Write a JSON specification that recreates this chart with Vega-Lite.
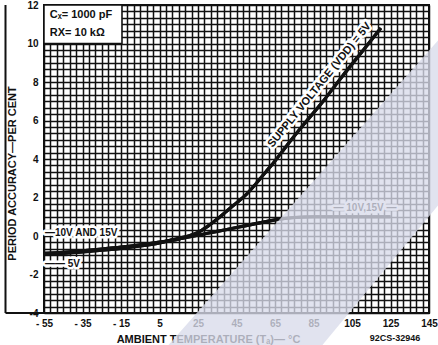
{
  "$schema": "https://vega.github.io/schema/vega-lite/v6.json",
  "width": 385,
  "height": 308,
  "autosize": "none",
  "padding": {"left": 44, "top": 5, "right": 9, "bottom": 32},
  "background": "white",
  "config": {"view": {"stroke": "#111", "strokeWidth": 2}, "font": "Liberation Sans"},
  "datasets": {
    "curves": [
      {"T": -55, "acc": -0.95, "supply": "5V"},
      {"T": -45, "acc": -0.9, "supply": "5V"},
      {"T": -35, "acc": -0.82, "supply": "5V"},
      {"T": -25, "acc": -0.74, "supply": "5V"},
      {"T": -15, "acc": -0.64, "supply": "5V"},
      {"T": -5, "acc": -0.52, "supply": "5V"},
      {"T": 5, "acc": -0.36, "supply": "5V"},
      {"T": 15, "acc": -0.12, "supply": "5V"},
      {"T": 20, "acc": 0.0, "supply": "5V"},
      {"T": 25, "acc": 0.18, "supply": "5V"},
      {"T": 30, "acc": 0.5, "supply": "5V"},
      {"T": 35, "acc": 0.88, "supply": "5V"},
      {"T": 40, "acc": 1.3, "supply": "5V"},
      {"T": 45, "acc": 1.72, "supply": "5V"},
      {"T": 50, "acc": 2.15, "supply": "5V"},
      {"T": 55, "acc": 2.7, "supply": "5V"},
      {"T": 60, "acc": 3.3, "supply": "5V"},
      {"T": 65, "acc": 3.9, "supply": "5V"},
      {"T": 70, "acc": 4.55, "supply": "5V"},
      {"T": 80, "acc": 5.8, "supply": "5V"},
      {"T": 90, "acc": 7.0, "supply": "5V"},
      {"T": 100, "acc": 8.3, "supply": "5V"},
      {"T": 110, "acc": 9.55, "supply": "5V"},
      {"T": 120, "acc": 10.8, "supply": "5V"},
      {"T": -55, "acc": -0.9, "supply": "10V, 15V"},
      {"T": -45, "acc": -0.85, "supply": "10V, 15V"},
      {"T": -35, "acc": -0.77, "supply": "10V, 15V"},
      {"T": -25, "acc": -0.68, "supply": "10V, 15V"},
      {"T": -15, "acc": -0.58, "supply": "10V, 15V"},
      {"T": -5, "acc": -0.46, "supply": "10V, 15V"},
      {"T": 5, "acc": -0.32, "supply": "10V, 15V"},
      {"T": 15, "acc": -0.16, "supply": "10V, 15V"},
      {"T": 25, "acc": 0.04, "supply": "10V, 15V"},
      {"T": 35, "acc": 0.24, "supply": "10V, 15V"},
      {"T": 45, "acc": 0.44, "supply": "10V, 15V"},
      {"T": 55, "acc": 0.64, "supply": "10V, 15V"},
      {"T": 65, "acc": 0.84, "supply": "10V, 15V"},
      {"T": 75, "acc": 0.96, "supply": "10V, 15V"},
      {"T": 85, "acc": 1.0, "supply": "10V, 15V"},
      {"T": 105, "acc": 1.0, "supply": "10V, 15V"},
      {"T": 125, "acc": 1.0, "supply": "10V, 15V"}
    ],
    "shade": [
      {"T": 9.42, "top": -5.69, "bottom": -5.69},
      {"T": 89.42, "top": 3.35, "bottom": -5.69},
      {"T": 149.68, "top": 10.16, "bottom": 1.58}
    ],
    "one": [{}]
  },
  "layer": [
    {
      "data": {"name": "curves"},
      "mark": {"type": "line", "interpolate": "monotone", "strokeWidth": 3.2, "color": "#111"},
      "encoding": {
        "x": {
          "field": "T", "type": "quantitative",
          "scale": {"domain": [-55, 145], "nice": false, "zero": false},
          "axis": {
            "values": [-55, -51.6667, -48.3333, -45, -41.6667, -38.3333, -35, -31.6667, -28.3333, -25, -21.6667, -18.3333, -15, -11.6667, -8.3333, -5, -1.6667, 1.6667, 5, 8.3333, 11.6667, 15, 18.3333, 21.6667, 25, 28.3333, 31.6667, 35, 38.3333, 41.6667, 45, 48.3333, 51.6667, 55, 58.3333, 61.6667, 65, 68.3333, 71.6667, 75, 78.3333, 81.6667, 85, 88.3333, 91.6667, 95, 98.3333, 101.6667, 105, 108.3333, 111.6667, 115, 118.3333, 121.6667, 125, 128.3333, 131.6667, 135, 138.3333, 141.6667, 145],
            "tickCount": 200,
            "labelExpr": "(datum.value + 55) % 20 == 0 ? (datum.value < 0 ? '- ' + abs(datum.value) : '' + datum.value) : ''",
            "grid": true, "gridColor": "#111", "gridWidth": 1.5, "gridOpacity": 1,
            "ticks": false, "domain": false,
            "labelFont": "Liberation Sans", "labelFontWeight": "bold", "labelFontSize": 10, "labelColor": "#111",
            "labelPadding": 5, "labelOverlap": false, "labelFlush": false, "labelBound": false,
            "title": "AMBIENT TEMPERATURE (Tₐ)— °C",
            "titleFont": "Liberation Sans", "titleFontSize": 11, "titleFontWeight": "bold", "titleColor": "#111",
            "titleX": 164, "titleY": 20, "titleBaseline": "top", "titleAlign": "center"
          }
        },
        "y": {
          "field": "acc", "type": "quantitative",
          "scale": {"domain": [-4, 12], "nice": false, "zero": false},
          "axis": {
            "values": [-4, -3.6667, -3.3333, -3, -2.6667, -2.3333, -2, -1.6667, -1.3333, -1, -0.6667, -0.3333, 0, 0.3333, 0.6667, 1, 1.3333, 1.6667, 2, 2.3333, 2.6667, 3, 3.3333, 3.6667, 4, 4.3333, 4.6667, 5, 5.3333, 5.6667, 6, 6.3333, 6.6667, 7, 7.3333, 7.6667, 8, 8.3333, 8.6667, 9, 9.3333, 9.6667, 10, 10.3333, 10.6667, 11, 11.3333, 11.6667, 12],
            "tickCount": 200,
            "labelExpr": "datum.value % 2 == 0 ? (datum.value < 0 ? '-' + abs(datum.value) : '' + datum.value) : ''",
            "grid": true, "gridColor": "#111", "gridWidth": 1.5, "gridOpacity": 1,
            "ticks": false, "domain": false,
            "labelFont": "Liberation Sans", "labelFontWeight": "bold", "labelFontSize": 10, "labelColor": "#111",
            "labelPadding": 6, "labelOverlap": false, "labelFlush": false, "labelBound": false,
            "title": "PERIOD ACCURACY—PER CENT",
            "titleFont": "Liberation Sans", "titleFontSize": 11, "titleFontWeight": "bold", "titleColor": "#111",
            "titleX": -32, "titleY": 168, "titleBaseline": "middle", "titleAlign": "center", "titleAngle": -90
          }
        },
        "detail": {"field": "supply"}
      }
    },
    {
      "data": {"name": "one"},
      "mark": {"type": "rect", "fill": "white", "stroke": "#111", "strokeWidth": 1.5},
      "encoding": {
        "x": {"datum": -55, "type": "quantitative", "scale": {"domain": [-55, 145], "nice": false, "zero": false}},
        "x2": {"datum": -14.5},
        "y": {"datum": 12, "type": "quantitative", "scale": {"domain": [-4, 12], "nice": false, "zero": false}},
        "y2": {"datum": 10}
      }
    },
    {
      "data": {"name": "one"},
      "mark": {"type": "text", "align": "left", "baseline": "middle", "font": "Liberation Sans", "fontWeight": "bold", "fontSize": 11, "color": "#111", "text": "Cₓ= 1000 pF"},
      "encoding": {
        "x": {"datum": -52, "type": "quantitative", "scale": {"domain": [-55, 145], "nice": false, "zero": false}},
        "y": {"datum": 11.5, "type": "quantitative", "scale": {"domain": [-4, 12], "nice": false, "zero": false}}
      }
    },
    {
      "data": {"name": "one"},
      "mark": {"type": "text", "align": "left", "baseline": "middle", "font": "Liberation Sans", "fontWeight": "bold", "fontSize": 11, "color": "#111", "text": "RX= 10 kΩ"},
      "encoding": {
        "x": {"datum": -52, "type": "quantitative", "scale": {"domain": [-55, 145], "nice": false, "zero": false}},
        "y": {"datum": 10.52, "type": "quantitative", "scale": {"domain": [-4, 12], "nice": false, "zero": false}}
      }
    },
    {
      "data": {"name": "one"},
      "mark": {"type": "text", "align": "left", "baseline": "middle", "font": "Liberation Sans", "fontWeight": "bold", "fontSize": 10, "fill": "white", "stroke": "white", "strokeWidth": 5, "strokeJoin": "round", "text": "—10V AND 15V"},
      "encoding": {
        "x": {"datum": -54.5, "type": "quantitative", "scale": {"domain": [-55, 145], "nice": false, "zero": false}},
        "y": {"datum": 0.18, "type": "quantitative", "scale": {"domain": [-4, 12], "nice": false, "zero": false}}
      }
    },
    {
      "data": {"name": "one"},
      "mark": {"type": "text", "align": "left", "baseline": "middle", "font": "Liberation Sans", "fontWeight": "bold", "fontSize": 10, "fill": "white", "stroke": "white", "strokeWidth": 5, "strokeJoin": "round", "text": "—— 5V"},
      "encoding": {
        "x": {"datum": -54.5, "type": "quantitative", "scale": {"domain": [-55, 145], "nice": false, "zero": false}},
        "y": {"datum": -1.45, "type": "quantitative", "scale": {"domain": [-4, 12], "nice": false, "zero": false}}
      }
    },
    {
      "data": {"name": "one"},
      "mark": {"type": "text", "align": "center", "baseline": "middle", "angle": -51, "font": "Liberation Sans", "fontWeight": "bold", "fontSize": 11, "fill": "white", "stroke": "white", "strokeWidth": 5, "strokeJoin": "round", "text": "SUPPLY VOLTAGE (VDD) = 5V"},
      "encoding": {
        "x": {"datum": 88.2, "type": "quantitative", "scale": {"domain": [-55, 145], "nice": false, "zero": false}},
        "y": {"datum": 7.84, "type": "quantitative", "scale": {"domain": [-4, 12], "nice": false, "zero": false}}
      }
    },
    {
      "data": {"name": "one"},
      "mark": {"type": "text", "align": "center", "baseline": "middle", "font": "Liberation Sans", "fontWeight": "bold", "fontSize": 10, "fill": "white", "stroke": "white", "strokeWidth": 5, "strokeJoin": "round", "text": "— 10V,15V —"},
      "encoding": {
        "x": {"datum": 111.75, "type": "quantitative", "scale": {"domain": [-55, 145], "nice": false, "zero": false}},
        "y": {"datum": 1.43, "type": "quantitative", "scale": {"domain": [-4, 12], "nice": false, "zero": false}}
      }
    },
    {
      "data": {"name": "curves"},
      "mark": {"type": "line", "interpolate": "monotone", "strokeWidth": 3.2, "color": "#111"},
      "encoding": {
        "x": {"field": "T", "type": "quantitative", "scale": {"domain": [-55, 145], "nice": false, "zero": false}},
        "y": {"field": "acc", "type": "quantitative", "scale": {"domain": [-4, 12], "nice": false, "zero": false}},
        "detail": {"field": "supply"}
      }
    },
    {
      "data": {"name": "one"},
      "mark": {"type": "text", "align": "left", "baseline": "middle", "font": "Liberation Sans", "fontWeight": "bold", "fontSize": 10, "color": "#111", "text": "—10V AND 15V"},
      "encoding": {
        "x": {"datum": -54.5, "type": "quantitative", "scale": {"domain": [-55, 145], "nice": false, "zero": false}},
        "y": {"datum": 0.18, "type": "quantitative", "scale": {"domain": [-4, 12], "nice": false, "zero": false}}
      }
    },
    {
      "data": {"name": "one"},
      "mark": {"type": "text", "align": "left", "baseline": "middle", "font": "Liberation Sans", "fontWeight": "bold", "fontSize": 10, "color": "#111", "text": "—— 5V"},
      "encoding": {
        "x": {"datum": -54.5, "type": "quantitative", "scale": {"domain": [-55, 145], "nice": false, "zero": false}},
        "y": {"datum": -1.45, "type": "quantitative", "scale": {"domain": [-4, 12], "nice": false, "zero": false}}
      }
    },
    {
      "data": {"name": "one"},
      "mark": {"type": "text", "align": "center", "baseline": "middle", "angle": -51, "font": "Liberation Sans", "fontWeight": "bold", "fontSize": 11, "color": "#111", "text": "SUPPLY VOLTAGE (VDD) = 5V"},
      "encoding": {
        "x": {"datum": 88.2, "type": "quantitative", "scale": {"domain": [-55, 145], "nice": false, "zero": false}},
        "y": {"datum": 7.84, "type": "quantitative", "scale": {"domain": [-4, 12], "nice": false, "zero": false}}
      }
    },
    {
      "data": {"name": "one"},
      "mark": {"type": "text", "align": "center", "baseline": "middle", "font": "Liberation Sans", "fontWeight": "bold", "fontSize": 10, "color": "#111", "text": "— 10V,15V —"},
      "encoding": {
        "x": {"datum": 111.75, "type": "quantitative", "scale": {"domain": [-55, 145], "nice": false, "zero": false}},
        "y": {"datum": 1.43, "type": "quantitative", "scale": {"domain": [-4, 12], "nice": false, "zero": false}}
      }
    },
    {
      "data": {"name": "one"},
      "mark": {"type": "rule", "clip": false, "strokeWidth": 2, "color": "#111"},
      "encoding": {
        "x": {"datum": -75, "type": "quantitative", "scale": {"domain": [-55, 145], "nice": false, "zero": false}},
        "y": {"datum": -4, "type": "quantitative", "scale": {"domain": [-4, 12], "nice": false, "zero": false}},
        "y2": {"datum": 12}
      }
    },
    {
      "data": {"name": "one"},
      "mark": {"type": "rule", "clip": false, "strokeWidth": 2, "color": "#111"},
      "encoding": {
        "x": {"datum": -75, "type": "quantitative", "scale": {"domain": [-55, 145], "nice": false, "zero": false}},
        "x2": {"datum": -55},
        "y": {"datum": -4, "type": "quantitative", "scale": {"domain": [-4, 12], "nice": false, "zero": false}}
      }
    },
    {
      "data": {"name": "one"},
      "mark": {"type": "text", "align": "center", "baseline": "middle", "font": "Liberation Sans", "fontWeight": "bold", "fontSize": 9, "color": "#111", "text": "92CS-32946"},
      "encoding": {
        "x": {"datum": 127.3, "type": "quantitative", "scale": {"domain": [-55, 145], "nice": false, "zero": false}},
        "y": {"datum": -5.32, "type": "quantitative", "scale": {"domain": [-4, 12], "nice": false, "zero": false}}
      }
    },
    {
      "data": {"name": "shade"},
      "mark": {"type": "area", "clip": false, "fill": "#d8dbeb", "opacity": 0.78},
      "encoding": {
        "x": {"field": "T", "type": "quantitative", "scale": {"domain": [-55, 145], "nice": false, "zero": false}},
        "y": {"field": "top", "type": "quantitative", "scale": {"domain": [-4, 12], "nice": false, "zero": false}},
        "y2": {"field": "bottom"}
      }
    }
  ]
}
